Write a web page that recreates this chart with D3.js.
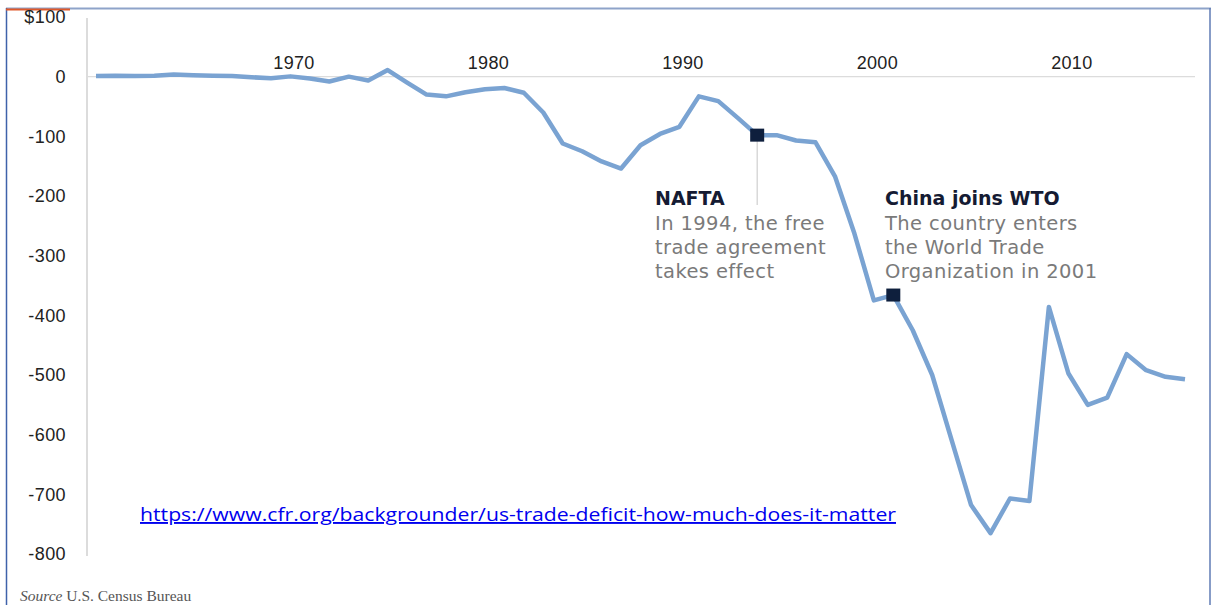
<!DOCTYPE html>
<html><head><meta charset="utf-8">
<script src="https://cdn.jsdelivr.net/npm/d3@7"></script>
<style>html,body{margin:0;padding:0;background:#fff;overflow:hidden}</style>
</head><body>
<svg id="c" width="1212" height="605"></svg>
<script>
const years = d3.range(1960, 2017);
const balance = [1, 1.5, 1, 1.5, 3.5, 2.5, 1.5, 1, -1, -2.5, 0.5, -3, -8, 0, -6.5, 11, -10, -30, -33, -26, -21, -19, -27, -60, -112, -125, -142, -154, -115, -96, -84, -33, -41, -69, -98, -98, -107, -110, -167, -263, -375, -366, -425, -500, -609, -718, -765, -707, -711, -386, -497, -550, -538, -465, -492, -503, -507];
const yTicks = [100, 0, -100, -200, -300, -400, -500, -600, -700, -800];
const yTickLabels = ["$100", "0", "-100", "-200", "-300", "-400", "-500", "-600", "-700", "-800"];
const xTicks = [1970, 1980, 1990, 2000, 2010];
const events = [
  {year: 1994, title: "NAFTA", lines: ["In 1994, the free", "trade agreement", "takes effect"]},
  {year: 2001, title: "China joins WTO", lines: ["The country enters", "the World Trade", "Organization in 2001"]}
];
const linkText = "https://www.cfr.org/backgrounder/us-trade-deficit-how-much-does-it-matter";

const svg = d3.select("#c");
const x = d3.scaleLinear().domain([1960, 2016]).range([96, 1185]);
const y = d3.scaleLinear().domain([-800, 100]).range([554, 17]);

// frame
svg.append("line").attr("x1", 6).attr("x2", 1211).attr("y1", 8.5).attr("y2", 8.5).attr("stroke", "#8ea3c9").attr("stroke-width", 2);
svg.append("line").attr("x1", 6.5).attr("x2", 6.5).attr("y1", 8).attr("y2", 605).attr("stroke", "#3f62aa").attr("stroke-width", 1.5);
svg.append("line").attr("x1", 1210).attr("x2", 1210).attr("y1", 8).attr("y2", 605).attr("stroke", "#5f7bb5").attr("stroke-width", 1.5);
svg.append("line").attr("x1", 6).attr("x2", 70).attr("y1", 9.5).attr("y2", 9.5).attr("stroke", "#e0582a").attr("stroke-width", 2);

// y axis line and zero line
svg.append("line").attr("x1", 87).attr("x2", 87).attr("y1", y(100) + 1).attr("y2", y(-800) + 2).attr("stroke", "#dcdcdc").attr("stroke-width", 2);
svg.append("line").attr("x1", 87).attr("x2", 1195).attr("y1", y(0)).attr("y2", y(0)).attr("stroke", "#dcdcdc").attr("stroke-width", 1.2);

const yAxis = svg.append("g").attr("transform", "translate(87,0)")
  .call(d3.axisLeft(y).tickValues(yTicks).tickSize(0).tickPadding(21).tickFormat((d, i) => yTickLabels[i]));
yAxis.select(".domain").remove();
yAxis.selectAll("text").attr("font-family", "Liberation Sans, Arial, sans-serif").attr("font-size", 18).attr("letter-spacing", 0.4).attr("fill", "#222");

const xAxis = svg.append("g").attr("transform", `translate(3,${y(0)})`)
  .call(d3.axisTop(x).tickValues(xTicks).tickSize(0).tickPadding(8).tickFormat(d3.format("d")));
xAxis.select(".domain").remove();
xAxis.selectAll("text").attr("font-family", "Liberation Sans, Arial, sans-serif").attr("font-size", 18).attr("letter-spacing", 0.3).attr("fill", "#222");

// line
const line = d3.line().x((d, i) => x(years[i])).y(d => y(d));
svg.append("path").datum(balance).attr("d", line).attr("fill", "none")
  .attr("stroke", "#7aa3d2").attr("stroke-width", 4.5).attr("stroke-linejoin", "round");

// annotations
const titleY = 205;
events.forEach((e, k) => {
  const idx = years.indexOf(e.year);
  const mx = x(e.year), my = y(balance[idx]);
  const tx = k === 0 ? 655 : 885;
  if (k === 0) {
    svg.append("line").attr("x1", mx).attr("x2", mx).attr("y1", my).attr("y2", titleY).attr("stroke", "#cfcfcf").attr("stroke-width", 1.2);
  }
  svg.append("rect").attr("x", mx - 7).attr("y", my - 6.5).attr("width", 14).attr("height", 13).attr("fill", "#0e1f3d");
  svg.append("text").attr("x", tx).attr("y", titleY).text(e.title)
    .attr("font-family", "DejaVu Sans, sans-serif").attr("font-weight", "bold").attr("font-size", 19).attr("fill", "#151b33");
  e.lines.forEach((l, j) => {
    svg.append("text").attr("x", tx).attr("y", titleY + 25 + j * 24).text(l)
      .attr("font-family", "DejaVu Sans, sans-serif").attr("font-size", 19.5).attr("letter-spacing", 0.4).attr("fill", "#7a7a7a");
  });
});

// link
svg.append("text").attr("x", 140).attr("y", 521).text(linkText)
  .attr("font-family", "Open Sans, sans-serif").attr("font-size", 19).attr("fill", "#0000ee")
  .attr("textLength", 756).attr("lengthAdjust", "spacingAndGlyphs")
  .style("text-decoration", "underline");

// source
const src = svg.append("text").attr("x", 20).attr("y", 601).attr("font-family", "Liberation Serif, serif").attr("font-size", 15.5).attr("fill", "#555");
src.append("tspan").attr("font-style", "italic").text("Source");
src.append("tspan").text(" U.S. Census Bureau");
</script>
</body></html>
